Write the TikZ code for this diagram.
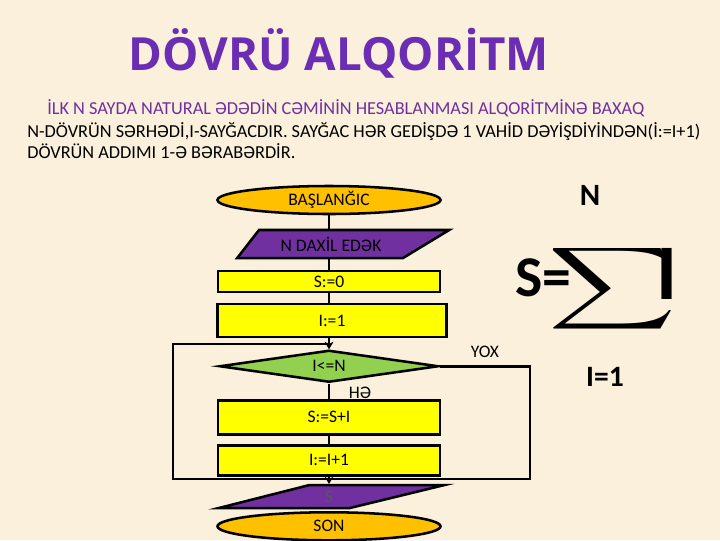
\documentclass[tikz,border=0pt]{standalone}
\usepackage{fontspec}
\setmainfont{Carlito}
\newfontfamily\titlefont{Open Sans}
\usetikzlibrary{positioning, shapes.geometric, arrows.meta}
\definecolor{bgbeige}{HTML}{FAF0DC}
\definecolor{ltpurple}{HTML}{7030A0}
\definecolor{titlepurple}{HTML}{6C2DB5}
\definecolor{ltorange}{HTML}{FFC000}
\definecolor{ltyellow}{HTML}{FFFF00}
\definecolor{ltgreen}{HTML}{92D050}
\tikzstyle{startstop} = [ellipse, minimum width=5.575cm, minimum height=0.7cm, inner sep=0pt, text centered, draw=black, fill=ltorange, line width=1.8pt]
\tikzstyle{io} = [trapezium, trapezium stretches=true, minimum height=0.7cm, text centered, draw=black, fill=ltpurple, line width=1.8pt]
\tikzstyle{process} = [rectangle, minimum width=5.55cm, text centered, draw=black, fill=ltyellow, line width=1.8pt]
\tikzstyle{decision} = [diamond, aspect=6.8, inner sep=1pt, minimum width=5.475cm, minimum height=0.8cm, text centered, draw=black, fill=ltgreen, line width=1.8pt]
\tikzstyle{arrow} = [line width=1.8pt,->,>={Stealth[length=5pt,width=6pt]}]
\tikzstyle{line} = [line width=1.8pt]
\tikzstyle{formula} = [inner sep=0pt, font=\bfseries]
\tikzstyle{every node}=[font=\fontsize{12.5}{14}\selectfont]

\begin{document}
\begin{tikzpicture}[x=0.025cm, y=-0.025cm]
		\useasboundingbox (0,0) rectangle (720,540);
		\fill[bgbeige] (0,0) rectangle (720,540);
		
		%başlıq və izah
		\node (title) at (339,53) [font=\titlefont\bfseries\fontsize{32.5}{38}\selectfont, text=titlepurple] {DÖVRÜ ALQORİTM};
		\node (intro1) [anchor=base west, inner sep=0pt, text=ltpurple, font=\fontsize{13}{15}\selectfont] at (47,114) {İLK N SAYDA NATURAL ƏDƏDİN CƏMİNİN HESABLANMASI ALQORİTMİNƏ BAXAQ};
		\node (intro2) [anchor=base west, inner sep=0pt, font=\fontsize{13}{15}\selectfont] at (27,137) {N-DÖVRÜN SƏRHƏDİ,I-SAYĞACDIR.  SAYĞAC HƏR GEDİŞDƏ 1 VAHİD DƏYİŞDİYİNDƏN(İ:=I+1)};
		\node (intro3) [anchor=base west, inner sep=0pt, font=\fontsize{13}{15}\selectfont] at (27,158) {DÖVRÜN ADDIMI 1-Ə BƏRABƏRDİR.};
		
		%blok-sxem
		\node (start) [startstop] at (329,200) {BAŞLANĞIC};
		\node (in1) [io, below of=start, node distance=1.1cm, xshift=0.05cm, trapezium left angle=55, trapezium right angle=146, minimum width=5.3cm] {N DAXİL EDƏK};
		\node (init0) [process, below of=start, node distance=2.04cm, minimum height=0.525cm] {S:=0};
		\node (init1) [process, below of=init0, node distance=0.975cm, xshift=0.075cm, minimum height=0.825cm, minimum width=5.725cm] {I:=1};
		\node (cond) [decision, below of=init0, node distance=2.115cm] {I<=N};
		\node (body) [process, below of=cond, node distance=1.275cm, minimum height=0.85cm] {S:=S+I};
		\node (inc) [process, below of=body, node distance=1.075cm, minimum height=0.75cm] {I:=I+1};
		\node (out) [io, below of=inc, node distance=0.91cm, trapezium left angle=28, trapezium right angle=153, minimum width=5.675cm, minimum height=0.575cm, text=black!65] {S};
		\node (stop) [startstop, below of=inc, node distance=1.65cm] {SON};
		\node (yes) at (360,393) {HƏ};
		\node (no) at (485,352) {YOX};
		
		%dövrün künc nöqtələri
		\coordinate (lb) at (173,479);
		\coordinate (lt) at (173,344);
		\coordinate (rb) at (530,479);
		
		%birləşdirmələr
		\draw [line] (start) -- (start |- in1.north);
		\draw [line] (start |- in1.south) -- (init0);
		\draw [line] (init0) -- (init0 |- init1.north);
		\draw [arrow] (init0 |- init1.south) -- (cond);
		\draw [line] (cond) -- (body);
		\draw [line] (body) -- (inc);
		\draw [arrow] (inc.south) |- (lb) -- (lt) -| (cond.north);
		\draw [arrow] (cond.east) -| (rb) -| (stop |- out.north);
		
		%cəm düsturu
		\node (sumtop) [formula, font=\bfseries\fontsize{22}{24}\selectfont] at (590,195) {N};
		\node (sumlhs) [formula, font=\bfseries\fontsize{41}{44}\selectfont] at (543,278) {S=};
		\node (sigma) [inner sep=0pt] at (613,289) {\resizebox*{3.2cm}{2.3cm}{$\displaystyle\sum$}};
		\node (sumterm) [formula, font=\bfseries\fontsize{56}{60}\selectfont] at (667,274) {I};
		\node (sumbot) [formula, font=\bfseries\fontsize{21}{24}\selectfont] at (605,377) {I=1};
	\end{tikzpicture}
\end{document}
